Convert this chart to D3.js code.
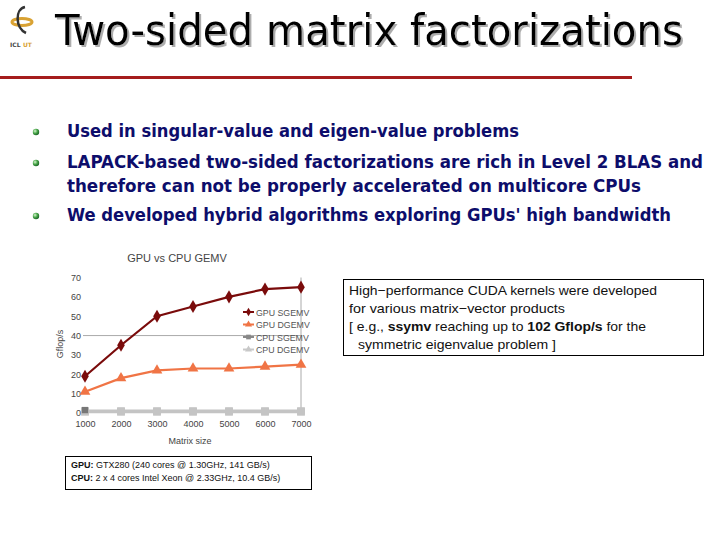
<!DOCTYPE html>
<html>
<head>
<meta charset="utf-8">
<script src="https://cdn.jsdelivr.net/npm/d3@7"></script>
<style>
  body { margin: 0; background: #fff; }
  svg { display: block; }
</style>
</head>
<body>
<div id="slide"></div>
<script>

// chart data
var matrixSizes = [1000, 2000, 3000, 4000, 5000, 6000, 7000];
var gpuSgemv = [19, 35, 50, 55, 60, 64, 65];
var gpuDgemv = [11, 18, 22, 23, 23, 24, 25];
var cpuSgemv = [1, 1, 1, 1, 1, 1, 1];
var cpuDgemv = [0.6, 0.6, 0.6, 0.6, 0.6, 0.6, 0.6];
var yTicks = [0, 10, 20, 30, 40, 50, 60, 70];
var seriesNames = ['GPU SGEMV', 'GPU DGEMV', 'CPU SGEMV', 'CPU DGEMV'];

var bullets = [
  ['Used in singular-value and eigen-value problems'],
  ['LAPACK-based two-sided factorizations are rich in Level 2 BLAS and',
   'therefore can not be properly accelerated on multicore CPUs'],
  ['We developed hybrid algorithms exploring GPUs\' high bandwidth']
];

var W = 720, H = 540;

var svg = d3.select('#slide').append('svg')
    .attr('width', W)
    .attr('height', H);

var defs = svg.append('defs');
var grad = defs.append('radialGradient').attr('id', 'ball')
    .attr('cx', '35%').attr('cy', '35%').attr('r', '65%');
grad.append('stop').attr('offset', '0%').attr('stop-color', '#d8f5d0');
grad.append('stop').attr('offset', '55%').attr('stop-color', '#4aa84a');
grad.append('stop').attr('offset', '100%').attr('stop-color', '#1f6a2a');

var shadow = defs.append('filter').attr('id', 'shadow')
    .attr('x', '-5%').attr('y', '-20%').attr('width', '115%').attr('height', '150%');
shadow.append('feDropShadow')
    .attr('dx', 2).attr('dy', 2).attr('stdDeviation', 0.6)
    .attr('flood-color', '#999').attr('flood-opacity', 0.8);

// ---- header ----
var logo = svg.append('g').attr('transform', 'translate(22,20)');
logo.append('ellipse').attr('cx', 0).attr('cy', 2).attr('rx', 10).attr('ry', 3.5)
    .attr('fill', 'none').attr('stroke', '#d9a233').attr('stroke-width', 3);
logo.append('path')
    .attr('d', 'M3,-13 C-7,-11 -7,8 4,13')
    .attr('fill', 'none').attr('stroke', '#333').attr('stroke-width', 2.5);
logo.append('text').attr('x', -12).attr('y', 27)
    .attr('font-family', 'DejaVu Sans').attr('font-size', 6).attr('font-weight', 'bold')
    .attr('fill', '#444').text('ICL');
logo.append('text').attr('x', 1).attr('y', 27)
    .attr('font-family', 'DejaVu Sans').attr('font-size', 6).attr('font-weight', 'bold')
    .attr('fill', '#d9a233').text('UT');

// title, with a soft shadow
svg.append('text')
    .attr('x', 55).attr('y', 45)
    .attr('font-family', 'DejaVu Sans Condensed, DejaVu Sans')
    .attr('font-size', 42)
    .attr('fill', '#000')
    .attr('filter', 'url(#shadow)')
    .attr('textLength', 628).attr('lengthAdjust', 'spacingAndGlyphs')
    .text('Two-sided matrix factorizations');

svg.append('rect')
    .attr('x', 0).attr('y', 76).attr('width', 632).attr('height', 3)
    .attr('fill', '#a51c1c');

// ---- bullets ----
var bulletY = [137, 168, 221];
var bulletW = [[452], [636, 574], [604]];
bullets.forEach(function(lines, i) {
  svg.append('circle')
      .attr('cx', 36).attr('cy', bulletY[i] - 5).attr('r', 3.2)
      .attr('fill', 'url(#ball)');
  lines.forEach(function(line, j) {
    svg.append('text')
        .attr('x', 67).attr('y', bulletY[i] + j * 24)
        .attr('font-family', 'DejaVu Sans Condensed, DejaVu Sans')
        .attr('font-weight', 'bold')
        .attr('font-size', 17)
        .attr('fill', '#0d0d6b')
        .attr('textLength', bulletW[i][j]).attr('lengthAdjust', 'spacingAndGlyphs')
        .text(line);
  });
});

// ---- chart ----
var x = d3.scaleLinear().domain([1000, 7000]).range([85, 301]);
var y = d3.scaleLinear().domain([0, 70]).range([413, 277.5]);

var chart = svg.append('g').attr('font-family', 'Liberation Sans, Arial, sans-serif');

chart.append('text')
    .attr('x', 177).attr('y', 262)
    .attr('text-anchor', 'middle')
    .attr('font-size', 11)
    .attr('fill', '#444')
    .text('GPU vs CPU GEMV');

// gridline at 40 and right frame line
chart.append('line')
    .attr('x1', 83).attr('x2', x(7000))
    .attr('y1', y(40)).attr('y2', y(40))
    .attr('stroke', '#aaa').attr('stroke-width', 1);
chart.append('line')
    .attr('x1', x(7000)).attr('x2', x(7000))
    .attr('y1', y(70)).attr('y2', y(0))
    .attr('stroke', '#aaa').attr('stroke-width', 1);

var yAxis = chart.append('g')
    .attr('transform', 'translate(82,0)')
    .call(d3.axisLeft(y).tickValues(yTicks).tickSize(0).tickPadding(1));
yAxis.select('.domain').remove();
yAxis.selectAll('text').attr('font-size', 9).attr('fill', '#444').attr('font-family', 'Liberation Sans, Arial');

var xAxis = chart.append('g')
    .attr('transform', 'translate(0,' + 418 + ')')
    .call(d3.axisBottom(x).tickValues(matrixSizes).tickSize(0).tickFormat(d3.format('d')));
xAxis.select('.domain').remove();
xAxis.selectAll('text').attr('font-size', 9).attr('fill', '#444').attr('font-family', 'Liberation Sans, Arial');

chart.append('text')
    .attr('x', 190).attr('y', 444)
    .attr('text-anchor', 'middle')
    .attr('font-size', 9).attr('fill', '#444')
    .text('Matrix size');

chart.append('text')
    .attr('transform', 'translate(63,344) rotate(-90)')
    .attr('text-anchor', 'middle')
    .attr('font-size', 9).attr('fill', '#444')
    .text('Gflop/s');

var line = d3.line()
    .x(function(d, i) { return x(matrixSizes[i]); })
    .y(function(d) { return y(d); });

var series = [
  {name: seriesNames[3], values: cpuDgemv, color: '#c4c4c4', width: 3, symbol: d3.symbolSquare, size: 60, fill: '#c4c4c4'},
  {name: seriesNames[2], values: cpuSgemv, color: '#c4c4c4', width: 3, symbol: d3.symbolSquare, size: 60, fill: '#c4c4c4'},
  {name: seriesNames[1], values: gpuDgemv, color: '#f07445', width: 2.2, symbol: d3.symbolTriangle, size: 50, fill: '#f07445'},
  {name: seriesNames[0], values: gpuSgemv, color: '#7a0b0b', width: 2.2, symbol: d3.symbolDiamond, size: 50, fill: '#7a0b0b'}
];

series.forEach(function(s) {
  chart.append('path')
      .datum(s.values)
      .attr('d', line)
      .attr('fill', 'none')
      .attr('stroke', s.color)
      .attr('stroke-width', s.width);
  chart.selectAll(null)
      .data(s.values)
      .enter()
      .append('path')
      .attr('transform', function(d, i) { return 'translate(' + x(matrixSizes[i]) + ',' + y(d) + ')'; })
      .attr('d', d3.symbol().type(s.symbol).size(s.size))
      .attr('fill', s.fill);
});

// dark square under first CPU point
chart.append('path')
    .attr('transform', 'translate(' + x(matrixSizes[0]) + ',' + (y(cpuSgemv[0]) - 1) + ')')
    .attr('d', d3.symbol().type(d3.symbolSquare).size(40))
    .attr('fill', '#777');

// legend
var legendColors = ['#7a0b0b', '#f07445', '#888', '#c8c8c8'];
var legendSymbols = [d3.symbolDiamond, d3.symbolTriangle, d3.symbolSquare, d3.symbolTriangle];
var legend = chart.selectAll('.legend')
    .data(seriesNames)
    .enter()
    .append('g')
    .attr('class', 'legend')
    .attr('transform', function(d, i) { return 'translate(243,' + (312 + i * 12.5) + ')'; });
legend.append('line')
    .attr('x1', 0).attr('x2', 11)
    .attr('stroke', function(d, i) { return legendColors[i]; })
    .attr('stroke-width', 2);
legend.append('path')
    .attr('transform', 'translate(5.5,0)')
    .attr('d', function(d, i) { return d3.symbol().type(legendSymbols[i]).size(22)(); })
    .attr('fill', function(d, i) { return legendColors[i]; });
legend.append('text')
    .attr('x', 13).attr('y', 3.5)
    .attr('font-size', 8.8).attr('fill', '#555')
    .text(function(d) { return d; });

// ---- note boxes ----
svg.append('rect')
    .attr('x', 343.5).attr('y', 279.5).attr('width', 360).attr('height', 76)
    .attr('fill', 'none').attr('stroke', '#000').attr('stroke-width', 1);

var noteLine = function(xPos, yPos, len) {
  return svg.append('text')
      .attr('x', xPos).attr('y', yPos)
      .attr('font-family', 'Liberation Sans, Arial')
      .attr('font-size', 13)
      .attr('fill', '#111')
      .attr('textLength', len).attr('lengthAdjust', 'spacingAndGlyphs');
};
noteLine(349, 295, 308).text('High−performance CUDA kernels were developed');
noteLine(349, 313, 216).text('for various matrix−vector products');
var l3 = noteLine(349, 331, 297);
l3.append('tspan').text('[ e.g., ');
l3.append('tspan').attr('font-weight', 'bold').text('ssymv');
l3.append('tspan').text(' reaching up to ');
l3.append('tspan').attr('font-weight', 'bold').text('102 Gflop/s');
l3.append('tspan').text(' for the');
noteLine(358, 349, 198).text('symmetric eigenvalue problem ]');

svg.append('rect')
    .attr('x', 65.5).attr('y', 456.5).attr('width', 246).attr('height', 33)
    .attr('fill', 'none').attr('stroke', '#000').attr('stroke-width', 1);

var specLine = function(yPos) {
  return svg.append('text')
      .attr('x', 71).attr('y', yPos)
      .attr('font-family', 'Liberation Sans, Arial')
      .attr('font-size', 9)
      .attr('fill', '#111');
};
var s1 = specLine(468);
s1.append('tspan').attr('font-weight', 'bold').text('GPU:');
s1.append('tspan').text(' GTX280 (240 cores @ 1.30GHz, 141 GB/s)');
var s2 = specLine(481);
s2.append('tspan').attr('font-weight', 'bold').text('CPU:');
s2.append('tspan').text(' 2 x 4 cores Intel Xeon @ 2.33GHz, 10.4 GB/s)');

</script>
</body>
</html>
